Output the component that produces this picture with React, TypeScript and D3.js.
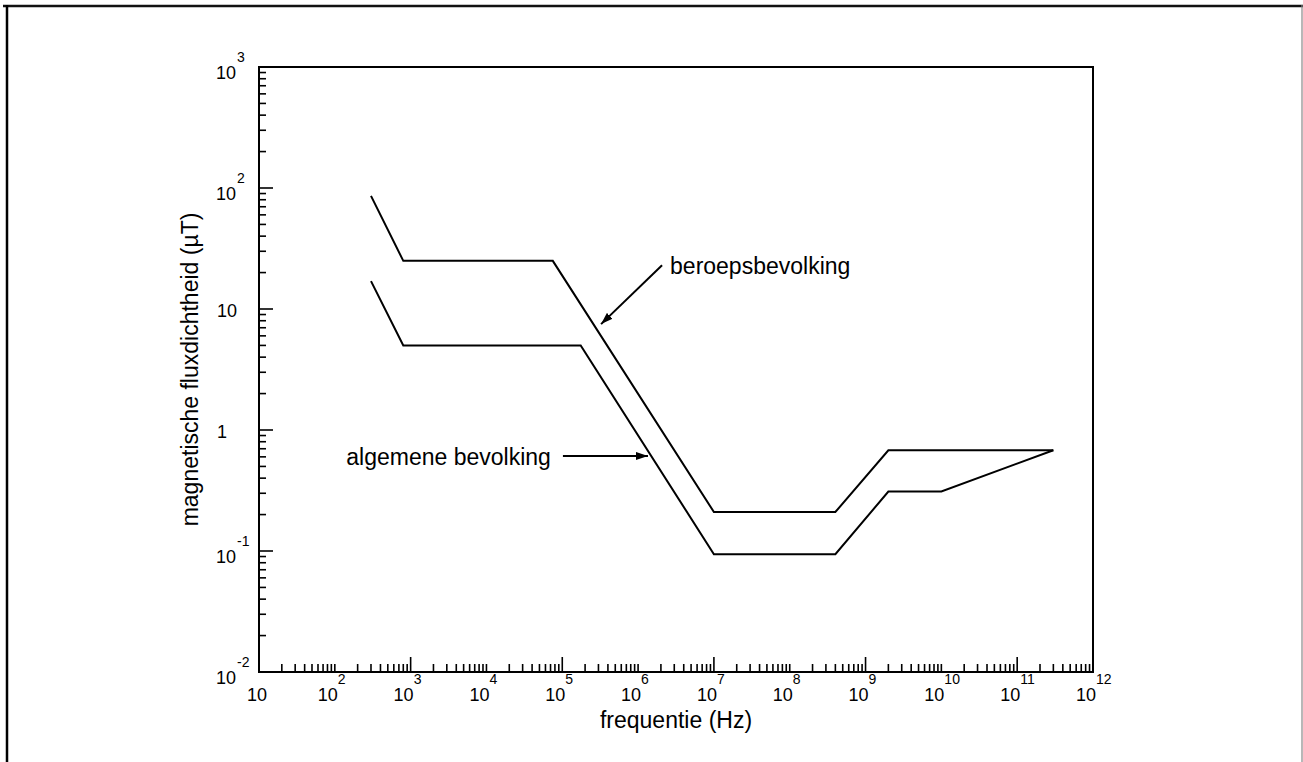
import React, { useRef, useEffect } from 'react';
import * as d3 from 'd3';

// frequency (Hz) and flux density (µT)
const occFreq = [300, 800, 7.5e4, 1e7, 4e8, 2e9, 3e11];
const occFlux = [86, 25, 25, 0.21, 0.21, 0.68, 0.68];
const pubFreq = [300, 800, 1.75e5, 1e7, 4e8, 2e9, 1e10, 3e11];
const pubFlux = [17, 5, 5, 0.094, 0.094, 0.31, 0.31, 0.68];

const xDecades = [1, 2, 3, 4, 5, 6, 7, 8, 9, 10, 11, 12];
const yDecades = [-2, -1, 0, 1, 2, 3];

const labels = [
  { text: 'beroepsbevolking', from: [2.07e6, 23], to: [3.25e5, 7.5], anchor: 'start' },
  { text: 'algemene bevolking', from: [1.02e5, 0.61], to: [1.35e6, 0.61], anchor: 'end' },
];

const App = () => {
  const svgRef = useRef(null);

  useEffect(() => {
    const width = 1303;
    const height = 762;
    const left = 259, right = 1093, top = 67, bottom = 672;
    const font = 'Liberation Sans, Arial, Helvetica, sans-serif';

    document.body.style.margin = '0';
    document.body.style.overflow = 'hidden';

    const svg = d3.select(svgRef.current)
      .attr('width', width)
      .attr('height', height)
      .style('display', 'block')
      .style('font-family', font);
    svg.selectAll('*').remove();

    svg.append('defs').append('marker')
      .attr('id', 'arrow')
      .attr('viewBox', '0 0 12 8')
      .attr('refX', 12)
      .attr('refY', 4)
      .attr('markerWidth', 12)
      .attr('markerHeight', 8)
      .attr('markerUnits', 'userSpaceOnUse')
      .attr('orient', 'auto')
      .append('path')
      .attr('d', 'M0,0 L12,4 L0,8 Z')
      .attr('fill', '#000');

    // page frame
    svg.append('line').attr('x1', 3).attr('x2', 1303).attr('y1', 6).attr('y2', 6)
      .attr('stroke', '#111').attr('stroke-width', 2.5);
    svg.append('line').attr('x1', 7).attr('x2', 7).attr('y1', 5).attr('y2', height)
      .attr('stroke', '#000').attr('stroke-width', 2.5);
    svg.append('line').attr('x1', 1302).attr('x2', 1302).attr('y1', 5).attr('y2', height)
      .attr('stroke', '#888').attr('stroke-width', 1.2);

    const x = d3.scaleLog().domain([1e1, 1e12]).range([left, right]);
    const y = d3.scaleLog().domain([1e-2, 1e3]).range([bottom, top]);

    // plot box
    svg.append('rect')
      .attr('x', left).attr('y', top)
      .attr('width', right - left).attr('height', bottom - top)
      .attr('fill', 'none').attr('stroke', '#000').attr('stroke-width', 2);

    // x ticks (inward, odd decades long)
    const xTicks = [];
    for (let e = 1; e < 12; e++) {
      for (let m = 1; m < 10; m++) {
        if (m === 1 && e === 1) continue;
        xTicks.push({ v: m * Math.pow(10, e), major: m === 1 && e % 2 === 1 });
      }
    }
    svg.append('g').selectAll('line')
      .data(xTicks)
      .enter()
      .append('line')
      .attr('x1', d => x(d.v)).attr('x2', d => x(d.v))
      .attr('y1', bottom)
      .attr('y2', d => bottom - (d.major ? 15 : 8))
      .attr('stroke', '#000').attr('stroke-width', 1.6);

    // y ticks
    const yTicks = [];
    for (let e = -2; e < 3; e++) {
      for (let m = 1; m < 10; m++) {
        yTicks.push({ v: m * Math.pow(10, e), major: m === 1 });
      }
    }
    yTicks.push({ v: 1e3, major: true });
    svg.append('g').selectAll('line')
      .data(yTicks)
      .enter()
      .append('line')
      .attr('x1', left)
      .attr('x2', d => left + (d.major ? 14 : 7))
      .attr('y1', d => y(d.v)).attr('y2', d => y(d.v))
      .attr('stroke', '#000').attr('stroke-width', 1.6);

    // x tick labels
    const xl = svg.append('g').attr('font-size', 18).attr('fill', '#000');
    xDecades.forEach(e => {
      const px = x(Math.pow(10, e));
      if (e === 1) {
        xl.append('text').attr('x', px - 2).attr('y', 701)
          .attr('text-anchor', 'middle').text('10');
        return;
      }
      xl.append('text').attr('x', px + 3).attr('y', 701)
        .attr('text-anchor', 'end').text('10');
      xl.append('text').attr('x', px + 3).attr('y', 684)
        .attr('font-size', 14).text(e);
    });

    // y tick labels
    const yl = svg.append('g').attr('font-size', 18).attr('fill', '#000');
    yDecades.forEach(e => {
      const py = y(Math.pow(10, e));
      if (e === 0 || e === 1) {
        yl.append('text').attr('x', 217).attr('y', py + 8).text(e === 0 ? '1' : '10');
        return;
      }
      yl.append('text').attr('x', 216).attr('y', py + 12).text('10');
      yl.append('text').attr('x', 237).attr('y', py - 5)
        .attr('font-size', 14).text(e);
    });

    // axis titles
    svg.append('text')
      .attr('x', (left + right) / 2).attr('y', 728)
      .attr('text-anchor', 'middle').attr('font-size', 23)
      .text('frequentie (Hz)');
    svg.append('text')
      .attr('transform', `translate(198,${(top + bottom) / 2}) rotate(-90)`)
      .attr('text-anchor', 'middle').attr('font-size', 23)
      .text('magnetische fluxdichtheid (µT)');

    // curves
    const line = d3.line().x(d => x(d[0])).y(d => y(d[1]));
    [[occFreq, occFlux], [pubFreq, pubFlux]].forEach(([f, b]) => {
      svg.append('path')
        .attr('d', line(f.map((v, i) => [v, b[i]])))
        .attr('fill', 'none')
        .attr('stroke', '#000')
        .attr('stroke-width', 2)
        .attr('stroke-linejoin', 'miter');
    });

    // annotations
    labels.forEach(l => {
      const x0 = x(l.from[0]), y0 = y(l.from[1]);
      svg.append('line')
        .attr('x1', x0).attr('y1', y0)
        .attr('x2', x(l.to[0])).attr('y2', y(l.to[1]))
        .attr('stroke', '#000').attr('stroke-width', 2)
        .attr('marker-end', 'url(#arrow)');
      svg.append('text')
        .attr('x', l.anchor === 'start' ? x0 + 8 : x0 - 12)
        .attr('y', y0 + 9)
        .attr('text-anchor', l.anchor)
        .attr('font-size', 23)
        .text(l.text);
    });
  }, []);

  return <svg ref={svgRef} style={{ position: 'absolute', left: 0, top: 0 }}></svg>;
};

export default App;
